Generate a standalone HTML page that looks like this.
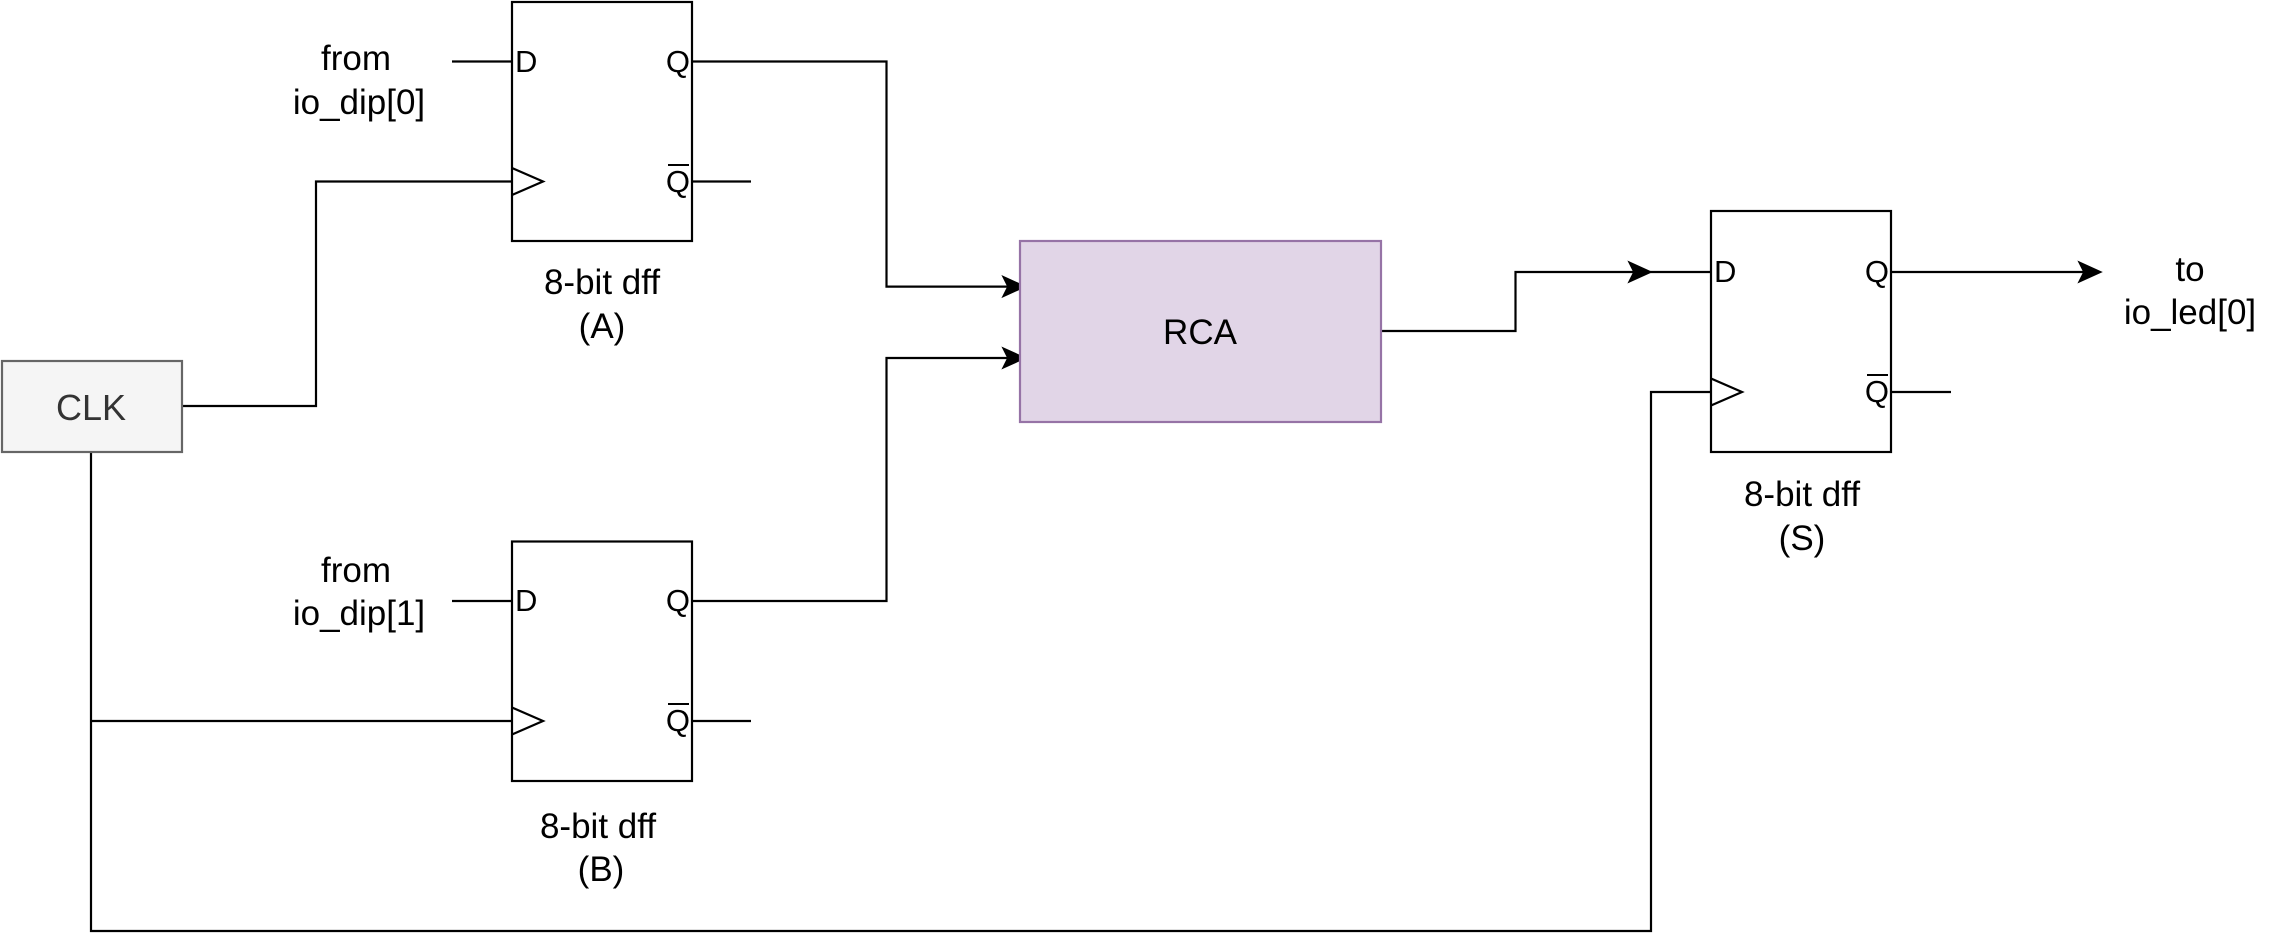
<!DOCTYPE html>
<html><head><style>html,body{margin:0;padding:0;background:#fff}svg{display:block}</style></head>
<body>
<svg width="2283" height="936" viewBox="0 0 2283 936" xmlns="http://www.w3.org/2000/svg" font-family="Liberation Sans, sans-serif">
<g fill="none" stroke="#000" stroke-width="2.2">
<rect x="512" y="2" width="180" height="239"/>
<line x1="452" y1="61.5" x2="512" y2="61.5"/>
<polyline points="512,168 543,181.5 512,195"/>
<line x1="692" y1="181.5" x2="751" y2="181.5"/>
<rect x="512" y="541.5" width="180" height="239.5"/>
<line x1="452" y1="601" x2="512" y2="601"/>
<polyline points="512,707.5 543,721 512,734.5"/>
<line x1="692" y1="721" x2="751" y2="721"/>
<rect x="1711" y="211" width="180" height="241"/>
<polyline points="1711,378.5 1742,392 1711,405.5"/>
<line x1="1891" y1="392" x2="1951" y2="392"/>
<polyline points="692,61.5 886.5,61.5 886.5,286.6 1008,286.6"/>
<polyline points="692,601 886.5,601 886.5,358 1008,358"/>
<polyline points="182,406 316,406 316,181.5 512,181.5"/>
<polyline points="91,452 91,931 1651,931 1651,392 1711,392"/>
<line x1="91" y1="721" x2="512" y2="721"/>
<polyline points="1381,331 1515.5,331 1515.5,272 1640,272"/>
<line x1="1650" y1="272" x2="1711" y2="272"/>
<line x1="1891" y1="272" x2="2090" y2="272"/>
</g>
<g fill="#000" stroke="#000" stroke-width="1.5">
<path d="M1025,286.6 L1003,276.6 L1008,286.6 L1003,296.6 Z"/>
<path d="M1025,358 L1003,348 L1008,358 L1003,368 Z"/>
<path d="M1651,272 L1629,262 L1634,272 L1629,282 Z"/>
<path d="M2101,272 L2079,262 L2084,272 L2079,282 Z"/>
</g>
<rect x="2" y="361" width="180" height="91" fill="#f5f5f5" stroke="#666" stroke-width="2.2"/>
<text x="91" y="420" font-size="36" fill="#333" text-anchor="middle">CLK</text>
<rect x="1020" y="241" width="361" height="181" fill="#e1d5e7" stroke="#9673a6" stroke-width="2.2"/>
<text x="1200" y="344" font-size="35" text-anchor="middle">RCA</text>
<g font-size="35" text-anchor="middle" fill="#000">
<text x="356" y="70">from</text>
<text x="359" y="114">io_dip[0]</text>
<text x="356" y="582">from</text>
<text x="359" y="625">io_dip[1]</text>
<text x="602" y="294">8-bit dff</text>
<text x="602" y="338">(A)</text>
<text x="598" y="838">8-bit dff</text>
<text x="601" y="881">(B)</text>
<text x="1802" y="506">8-bit dff</text>
<text x="1802" y="550">(S)</text>
<text x="2190" y="281">to</text>
<text x="2190" y="324">io_led[0]</text>
</g>
<g font-size="31" fill="#000">
<text x="515" y="72">D</text>
<text x="690" y="72" text-anchor="end">Q</text>
<text x="690" y="192" text-anchor="end">Q</text>
<line x1="668" y1="165" x2="689" y2="165" stroke="#000" stroke-width="2"/>
<text x="515" y="611">D</text>
<text x="690" y="611" text-anchor="end">Q</text>
<text x="690" y="731" text-anchor="end">Q</text>
<line x1="668" y1="704" x2="689" y2="704" stroke="#000" stroke-width="2"/>
<text x="1714" y="282">D</text>
<text x="1889" y="282" text-anchor="end">Q</text>
<text x="1889" y="402" text-anchor="end">Q</text>
<line x1="1867" y1="375" x2="1888" y2="375" stroke="#000" stroke-width="2"/>
</g>
</svg>
</body></html>
